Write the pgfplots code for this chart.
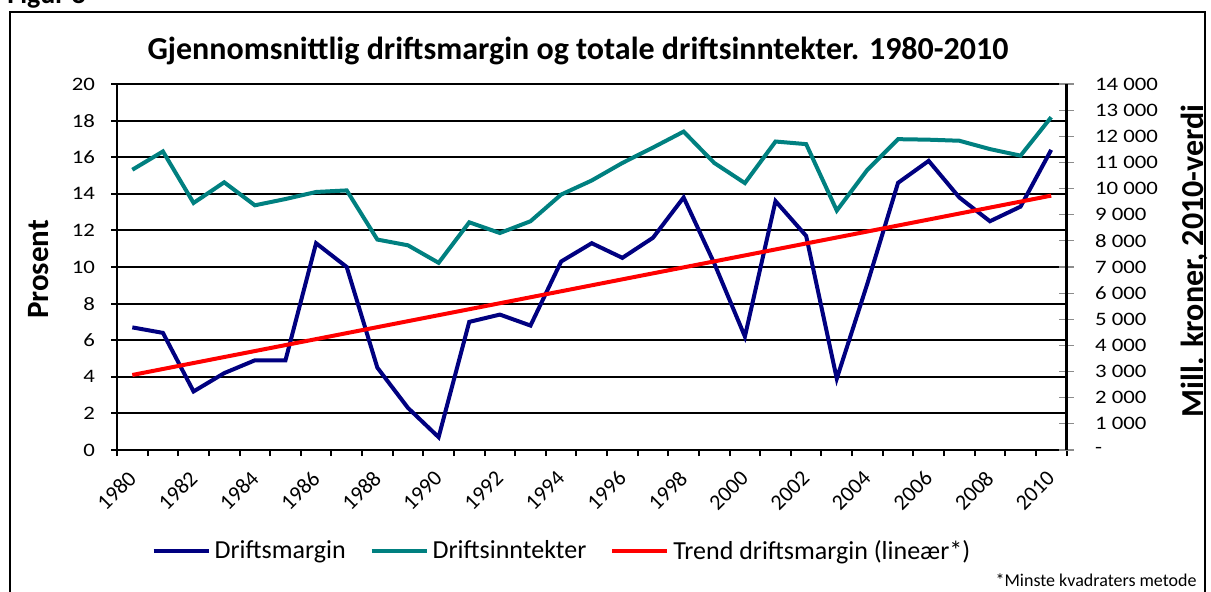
\documentclass[border=0pt]{standalone}
\usepackage{fontspec}
\setmainfont{Carlito}
\newfontfamily\tickfont[FakeStretch=1.2]{Carlito}
\usepackage{pgfplots}
\pgfplotsset{compat=1.18}
\definecolor{dmnavy}{RGB}{0,0,128}
\definecolor{dmteal}{RGB}{0,128,128}
\definecolor{dmred}{RGB}{255,0,0}
\begin{document}
\begin{tikzpicture}[x=0.5pt,y=0.5pt]
\coordinate (SW) at (117,141);
\pgfplotsset{
  common/.style={
    at={(SW)}, anchor=south west, scale only axis,
    width=474.75pt, height=183pt,
    xmin=1979.5, xmax=2010.5,
  }
}
\begin{axis}[common,
  ymin=0, ymax=20,
  axis x line*=bottom, axis y line*=left,
  axis line style={line width=1.3pt,-},
  xtick={1980,1982,...,2010},
  xticklabels={1980,1982,1984,1986,1988,1990,1992,1994,1996,1998,2000,2002,2004,2006,2008,2010},
  minor xtick={1979.5,1980.5,...,2010.5},
  major x tick style={draw=none},
  minor tick length=3pt, major tick length=3pt,
  tick align=outside,
  tick style={black, line width=1pt},
  ytick={0,2,...,20},
  yticklabels={0,2,4,6,8,10,12,14,16,18,20},
  ymajorgrids, grid style={black, line width=1pt},
  yticklabel style={font=\tickfont\fontsize{9.5}{11}\selectfont, xshift=-4.5pt},
  xticklabel style={font=\fontsize{11}{13}\selectfont, xshift=-2.75pt, yshift=-6.5pt, rotate=45, anchor=north east, inner sep=0pt},
  legend style={at={(0.4697,-0.276)}, anchor=center, draw=none, fill=none,
    legend columns=3, font=\fontsize{13}{15}\selectfont,
    /tikz/every even column/.append style={column sep=10pt}},
  legend image code/.code={\draw[#1] (0pt,0pt) -- (27.5pt,0pt);},
]
\addplot[dmnavy, line width=2pt] coordinates {
(1980,6.7) (1981,6.4) (1982,3.2) (1983,4.2) (1984,4.9) (1985,4.9) (1986,11.3) (1987,10.0)
(1988,4.5) (1989,2.3) (1990,0.7) (1991,7.0) (1992,7.4) (1993,6.8) (1994,10.3) (1995,11.3)
(1996,10.5) (1997,11.6) (1998,13.8) (1999,10.2) (2000,6.2) (2001,13.6) (2002,11.7) (2003,3.9)
(2004,9.1) (2005,14.6) (2006,15.8) (2007,13.8) (2008,12.5) (2009,13.3) (2010,16.4)};
\addlegendentry{Driftsmargin}
\addlegendimage{dmteal, line width=2pt}
\addlegendentry{Driftsinntekter}
\addplot[dmred, line width=2pt] coordinates {(1980,4.1) (2010,13.9)};
\addlegendentry{Trend driftsmargin (lineær*)}
\end{axis}
\begin{axis}[common,
  ymin=0, ymax=14000,
  scaled y ticks=false,
  axis x line=none, axis y line*=right,
  axis line style={line width=1.3pt,-},
  ytick={0,1000,...,14000},
  yticklabels={-,1 000,2 000,3 000,4 000,5 000,6 000,7 000,8 000,9 000,10 000,11 000,12 000,13 000,14 000},
  tick align=center, major tick length=7.5pt,
  y tick style={black!45, line width=0.6pt},
  yticklabel style={font=\tickfont\fontsize{9.5}{11}\selectfont, anchor=west, xshift=7pt},
]
\addplot[dmteal, line width=2pt] coordinates {
(1980,10720) (1981,11420) (1982,9450) (1983,10240) (1984,9360) (1985,9600) (1986,9870) (1987,9930)
(1988,8050) (1989,7830) (1990,7160) (1991,8710) (1992,8300) (1993,8750) (1994,9770) (1995,10310)
(1996,10980) (1997,11570) (1998,12180) (1999,10980) (2000,10210) (2001,11800) (2002,11700) (2003,9160)
(2004,10720) (2005,11890) (2006,11870) (2007,11830) (2008,11510) (2009,11260) (2010,12730)};
\end{axis}
\node[font=\fontsize{16}{19}\selectfont\bfseries, anchor=base] at (578,531.7) {Gjennomsnittlig driftsmargin og totale driftsinntekter. 1980-2010};
\node[font=\fontsize{15.5}{18}\selectfont\bfseries, rotate=90, anchor=base, inner sep=0pt] at (48,321.5) {Prosent};
\node[font=\fontsize{16}{18}\selectfont\bfseries, rotate=90, anchor=base, inner sep=0pt] at (1203,330) {Mill. kroner, 2010-verdi};
\node[font=\fontsize{9}{11}\selectfont, anchor=base east, inner sep=0pt] at (1197,5) {*Minste kvadraters metode};
\node[font=\fontsize{14}{16}\selectfont\bfseries, anchor=base west, inner sep=0pt] at (7,587.5) {Figur 8};
\draw[line width=1pt] (10,-20) -- (10,579) -- (1205,579) -- (1205,-20);
\pgfresetboundingbox
\path[use as bounding box] (0,0) rectangle (1211,591);
\end{tikzpicture}
\end{document}
